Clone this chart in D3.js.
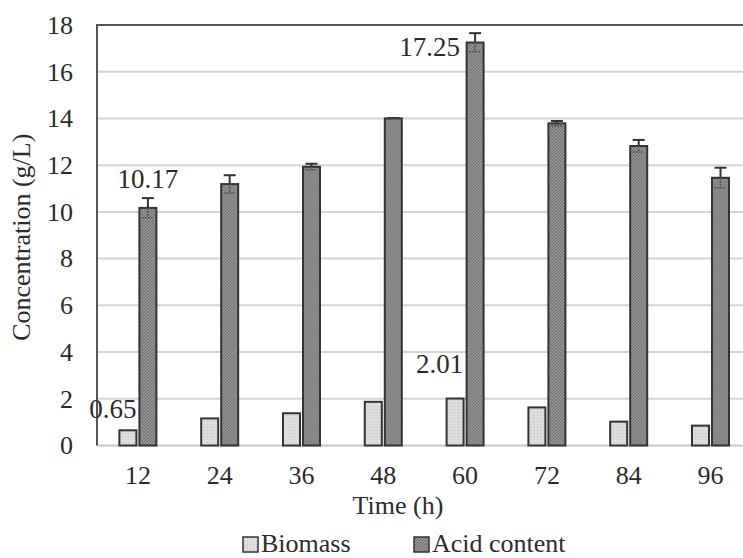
<!DOCTYPE html>
<html>
<head>
<meta charset="utf-8">
<script src="https://cdn.jsdelivr.net/npm/d3@7"></script>
<style>
  html, body { margin: 0; padding: 0; background: #fff; }
  svg { display: block; }
  text { font-family: "Liberation Serif", "Times New Roman", serif; fill: #2b2b2b; }
</style>
</head>
<body>
<svg id="chart" width="743" height="558"></svg>
<script>
const categories = ["12", "24", "36", "48", "60", "72", "84", "96"];
const biomass    = [0.65, 1.16, 1.38, 1.87, 2.01, 1.63, 1.02, 0.85];
const acid       = [10.17, 11.19, 11.93, 14.0, 17.25, 13.79, 12.82, 11.46];
const acidErr    = [0.42, 0.38, 0.13, 0.02, 0.40, 0.10, 0.26, 0.43];
const yTicks     = [0, 2, 4, 6, 8, 10, 12, 14, 16, 18];
const seriesNames = ["Biomass", "Acid content"];
// data labels shown in the original: [series, category index]
const labelled = [["Biomass", 0], ["Acid content", 0], ["Biomass", 4], ["Acid content", 4]];

const svg = d3.select("#chart");
const plotLeft = 97, plotTop = 25, plotBottom = 445.5, bandStep = 81.8;
const serif = "'Liberation Serif', 'Times New Roman', serif";

const x0 = d3.scaleBand().domain(categories).range([plotLeft, plotLeft + bandStep * categories.length]).padding(0);
const x1 = d3.scaleBand().domain(seriesNames).range([0, x0.bandwidth()]).paddingInner(0.15).paddingOuter(1.12);
const y = d3.scaleLinear().domain([0, 18]).range([plotBottom, plotTop]);

const defs = svg.append("defs");
const pb = defs.append("pattern").attr("id", "pBio").attr("patternUnits", "userSpaceOnUse").attr("width", 3).attr("height", 3);
pb.append("rect").attr("width", 3).attr("height", 3).attr("fill", "#dedede");
pb.append("rect").attr("x", 1).attr("y", 1).attr("width", 1).attr("height", 1).attr("fill", "#c4c4c4");
const pa = defs.append("pattern").attr("id", "pAcid").attr("patternUnits", "userSpaceOnUse").attr("width", 3).attr("height", 3);
pa.append("rect").attr("width", 3).attr("height", 3).attr("fill", "#959595");
pa.append("path").attr("d", "M0,3 L3,0 M-1,1 L1,-1 M2,4 L4,2").attr("stroke", "#6a6a6a").attr("stroke-width", 1);

// gridlines
svg.append("g").selectAll("line").data(yTicks.filter(t => t > 0 && t < 18)).join("line")
  .attr("x1", plotLeft).attr("x2", 743)
  .attr("y1", d => y(d)).attr("y2", d => y(d))
  .attr("stroke", "#d4d4d4").attr("stroke-width", 2);
// bottom line
svg.append("line").attr("x1", plotLeft).attr("x2", 743).attr("y1", y(0)).attr("y2", y(0))
  .attr("stroke", "#c8c8c8").attr("stroke-width", 2);
// top border
svg.append("line").attr("x1", plotLeft).attr("x2", 743).attr("y1", y(18)).attr("y2", y(18))
  .attr("stroke", "#555").attr("stroke-width", 2);
// left axis line
svg.append("line").attr("x1", plotLeft).attr("x2", plotLeft).attr("y1", y(18) - 1).attr("y2", y(0))
  .attr("stroke", "#555").attr("stroke-width", 2);

// y tick labels
const yAxis = d3.axisLeft(y).tickValues(yTicks).tickSize(0).tickPadding(24);
const gy = svg.append("g").attr("transform", `translate(${plotLeft},0)`).call(yAxis);
gy.attr("font-family", serif);
gy.select(".domain").remove();
gy.selectAll("text").style("font-size", "26px").style("font-family", serif).attr("fill", "#2b2b2b");

// x tick labels
const xAxis = d3.axisBottom(x0).tickSize(0).tickPadding(20);
const gx = svg.append("g").attr("transform", `translate(0,${plotBottom})`).call(xAxis);
gx.attr("font-family", serif);
gx.select(".domain").remove();
gx.selectAll("text").style("font-size", "26px").style("font-family", serif).attr("fill", "#2b2b2b");

// bars
const groups = svg.append("g").selectAll("g").data(categories).join("g")
  .attr("transform", d => `translate(${x0(d)},0)`);
groups.append("rect")
  .attr("x", x1("Biomass")).attr("width", x1.bandwidth())
  .attr("y", (d, i) => y(biomass[i])).attr("height", (d, i) => y(0) - y(biomass[i]))
  .attr("fill", "url(#pBio)").attr("stroke", "#333").attr("stroke-width", 2);
groups.append("rect")
  .attr("x", x1("Acid content")).attr("width", x1.bandwidth())
  .attr("y", (d, i) => y(acid[i])).attr("height", (d, i) => y(0) - y(acid[i]))
  .attr("fill", "url(#pAcid)").attr("stroke", "#333").attr("stroke-width", 2);

// error bars
const eb = groups.append("g").attr("transform", `translate(${x1("Acid content") + x1.bandwidth() / 2},0)`);
eb.append("line").attr("x1", 0).attr("x2", 0)
  .attr("y1", (d, i) => y(acid[i])).attr("y2", (d, i) => y(acid[i] + acidErr[i]))
  .attr("stroke", "#333").attr("stroke-width", 2);
eb.append("line").attr("x1", -6).attr("x2", 6)
  .attr("y1", (d, i) => y(acid[i] + acidErr[i])).attr("y2", (d, i) => y(acid[i] + acidErr[i]))
  .attr("stroke", "#333").attr("stroke-width", 2);
eb.append("line").attr("x1", 0).attr("x2", 0)
  .attr("y1", (d, i) => y(acid[i])).attr("y2", (d, i) => y(acid[i] - acidErr[i]))
  .attr("stroke", "#555").attr("stroke-width", 1.5).attr("stroke-dasharray", "2,1");
eb.append("line").attr("x1", -6).attr("x2", 6)
  .attr("y1", (d, i) => y(acid[i] - acidErr[i])).attr("y2", (d, i) => y(acid[i] - acidErr[i]))
  .attr("stroke", "#555").attr("stroke-width", 1.5).attr("stroke-dasharray", "2,1");

// data labels
const labelOffsets = {
  "Biomass-0": [-15, -12],
  "Acid content-0": [0, -20],
  "Biomass-4": [-15.5, -26],
  "Acid content-4": [-45.5, 13]
};
svg.append("g").selectAll("text").data(labelled).join("text")
  .attr("x", d => x0(categories[d[1]]) + x1(d[0]) + x1.bandwidth() / 2 + labelOffsets[d[0] + "-" + d[1]][0])
  .attr("y", d => y((d[0] === "Biomass" ? biomass : acid)[d[1]]) + labelOffsets[d[0] + "-" + d[1]][1])
  .attr("text-anchor", "middle")
  .style("font-size", "27px")
  .text(d => (d[0] === "Biomass" ? biomass : acid)[d[1]].toFixed(2));

// axis titles
svg.append("text").attr("transform", `translate(30,${(plotTop + plotBottom) / 2 + 2}) rotate(-90)`)
  .attr("text-anchor", "middle").style("font-size", "26px").text("Concentration (g/L)");
svg.append("text").attr("x", 398).attr("y", 514).attr("text-anchor", "middle")
  .style("font-size", "26px").text("Time (h)");

// legend
const legendX = [243, 414];
const lg = svg.append("g").selectAll("g").data(seriesNames).join("g")
  .attr("transform", (d, i) => `translate(${legendX[i]},552)`);
lg.append("rect").attr("y", -15).attr("width", 15).attr("height", 15)
  .attr("fill", d => d === "Biomass" ? "url(#pBio)" : "url(#pAcid)")
  .attr("stroke", "#333").attr("stroke-width", 1.5);
lg.append("text").attr("x", 18).attr("y", 0).style("font-size", "26px").text(d => d);
</script>
</body>
</html>
